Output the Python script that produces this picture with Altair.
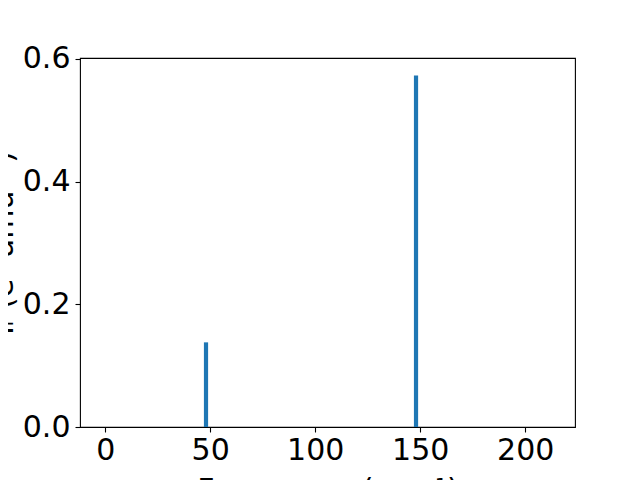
import altair as alt
import pandas as pd

# Data
frequencies = [48, 148]          # cm^-1
intensities = [0.138, 0.573]     # e^2 amu^-1
x_ticks = [0, 50, 100, 150, 200]
y_ticks = [0.0, 0.2, 0.4, 0.6]

df = pd.DataFrame({"freq": frequencies, "ir": intensities})

font = "DejaVu Sans"

chart = (
    alt.Chart(df)
    .transform_calculate(lo="datum.freq - 1", hi="datum.freq + 1")
    .mark_rect(color="#1f77b4")
    .encode(
        x=alt.X(
            "lo:Q",
            scale=alt.Scale(domain=[-12, 223.7], nice=False, zero=False),
            axis=alt.Axis(
                values=x_ticks,
                format="d",
                title="Frequency (cm⁻¹)",
                titlePadding=10,
                labelPadding=3,
                labelFlush=False,
            ),
        ),
        x2="hi:Q",
        y=alt.Y(
            "ir:Q",
            scale=alt.Scale(domain=[0, 0.6016], nice=False),
            axis=alt.Axis(
                values=y_ticks,
                format=".1f",
                title="Iᵣ (e² amu⁻¹)",
                titleX=-62,
                labelPadding=5,
                labelFlush=False,
            ),
        ),
        y2=alt.datum(0),
    )
    .properties(
        width=495,
        height=369,
        autosize=alt.AutoSizeParams(type="none"),
        padding={"left": 72, "top": 50, "right": 57, "bottom": 53},
    )
    .configure_view(stroke="black", strokeWidth=1.1)
    .configure_axis(
        domain=False,
        grid=False,
        ticks=True,
        tickSize=5,
        tickWidth=1.1,
        tickColor="black",
        labelFont=font,
        labelFontSize=30,
        labelColor="black",
        titleFont=font,
        titleFontSize=30,
        titleFontWeight="normal",
        titleColor="black",
    )
)

chart.save("out.html", embed_options={"renderer": "svg", "actions": False})
